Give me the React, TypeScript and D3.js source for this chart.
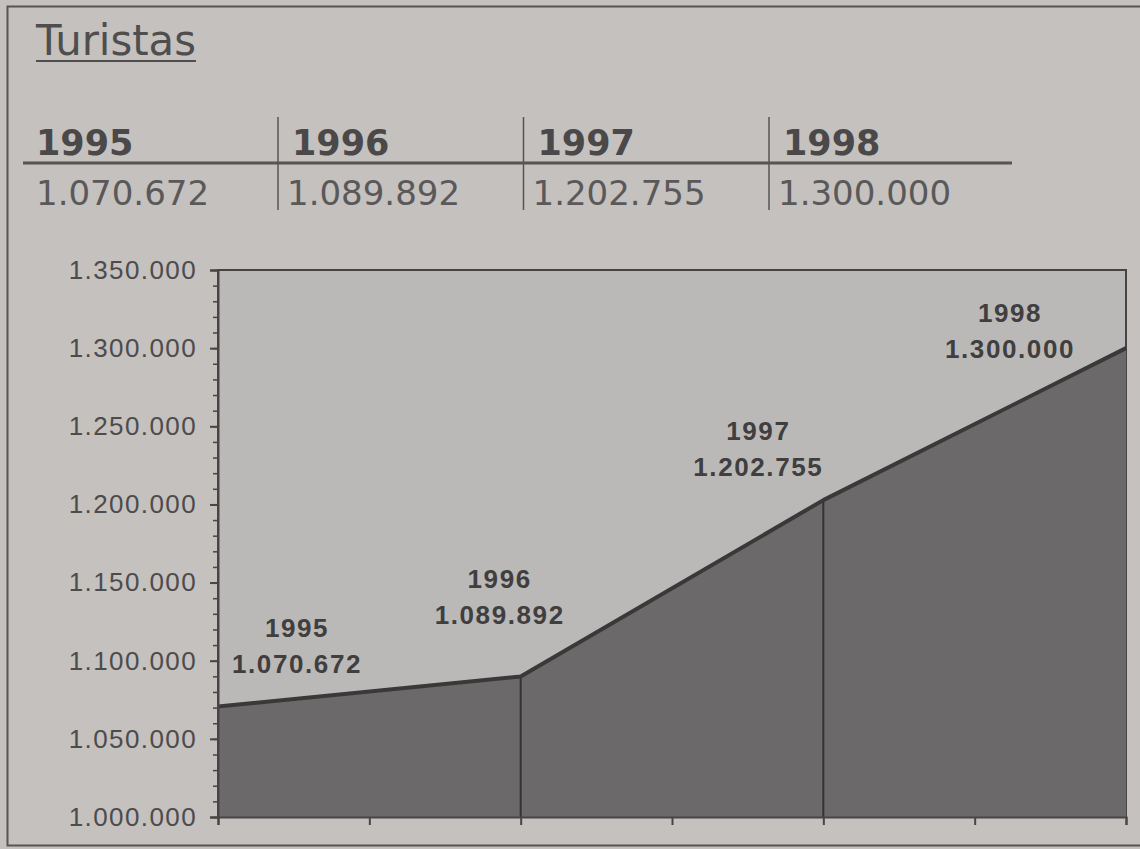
import React, { useEffect, useRef } from 'react';
import * as d3 from 'd3';

// data
const years = ['1995', '1996', '1997', '1998'];
const tourists = [1070672, 1089892, 1202755, 1300000];
const yMin = 1000000;
const yMax = 1350000;
const yMajor = d3.range(yMin, yMax + 1, 50000);
const yMinor = d3.range(yMin, yMax + 1, 10000);
const xTicks = d3.range(0, years.length - 1 + 0.01, 0.5);

const esLocale = d3.formatLocale({ decimal: ',', thousands: '.', grouping: [3], currency: ['', ''] });
const fmt = esLocale.format(',d');

const W = 1140;
const H = 849;

const App = () => {
  const ref = useRef<SVGSVGElement>(null);
  useEffect(() => {
    const svg = d3.select(ref.current);
    svg.selectAll('*').remove();
    draw(svg);
  }, []);
  return <svg ref={ref} width={W} height={H} style={{ position: 'absolute', left: 0, top: 0 }} />;
};

const draw = (svg: any) => {
  const ink = '#474545';
  const paper = '#c4c1bf';

  svg.append('rect').attr('width', W).attr('height', H).attr('fill', paper);
  svg.append('rect')
    .attr('x', 7.5).attr('y', 6.5).attr('width', W + 20).attr('height', 839)
    .attr('fill', 'none').attr('stroke', '#555').attr('stroke-width', 2);

  // title
  svg.append('text')
    .attr('x', 36).attr('y', 55)
    .attr('font-family', '"DejaVu Sans", Verdana, sans-serif')
    .attr('font-size', 43)
    .attr('textLength', 160).attr('lengthAdjust', 'spacingAndGlyphs')
    .attr('fill', '#4f4d4d')
    .text('Turistas');
  svg.append('line')
    .attr('x1', 36).attr('x2', 196).attr('y1', 61).attr('y2', 61)
    .attr('stroke', '#4f4d4d').attr('stroke-width', 2);

  // little table above the chart
  const colStart = (i: number) => 32.5 + i * 245.5;
  const table = svg.append('g');
  table.append('line')
    .attr('x1', 23).attr('x2', 1012).attr('y1', 163).attr('y2', 163)
    .attr('stroke', '#555').attr('stroke-width', 3);
  years.forEach((yr, i) => {
    const x0 = colStart(i);
    if (i > 0) {
      table.append('line')
        .attr('x1', x0).attr('x2', x0).attr('y1', 117).attr('y2', 210)
        .attr('stroke', '#555').attr('stroke-width', 1.5);
    }
    table.append('text')
      .attr('x', i === 0 ? 36 : x0 + 14).attr('y', 155)
      .attr('font-family', '"DejaVu Sans", Verdana, sans-serif')
      .attr('font-weight', 'bold').attr('font-size', 35)
      .attr('fill', '#4a4848')
      .text(yr);
    table.append('text')
      .attr('x', i === 0 ? 36 : x0 + 9).attr('y', 205)
      .attr('font-family', '"DejaVu Sans", Verdana, sans-serif')
      .attr('font-size', 34)
      .attr('fill', '#5a5858')
      .text(fmt(tourists[i]));
  });

  // chart
  const x = d3.scaleLinear().domain([0, years.length - 1]).range([218, 1126]);
  const y = d3.scaleLinear().domain([yMin, yMax]).range([817, 270]);

  const plot = svg.append('g');
  plot.append('rect')
    .attr('x', x(0)).attr('y', y(yMax))
    .attr('width', x(years.length - 1) - x(0)).attr('height', y(yMin) - y(yMax))
    .attr('fill', '#bbb9b8').attr('stroke', '#444').attr('stroke-width', 2);

  const area = d3.area<number>()
    .x((d, i) => x(i))
    .y0(y(yMin))
    .y1(d => y(d));
  plot.append('path').datum(tourists).attr('d', area).attr('fill', '#6b6969');

  // drop lines at the inner categories
  tourists.slice(1, -1).forEach((v, j) => {
    const i = j + 1;
    plot.append('line')
      .attr('x1', x(i)).attr('x2', x(i)).attr('y1', y(v)).attr('y2', y(yMin))
      .attr('stroke', '#353333').attr('stroke-width', 2);
  });

  const line = d3.line<number>().x((d, i) => x(i)).y(d => y(d));
  plot.append('path').datum(tourists).attr('d', line)
    .attr('fill', 'none').attr('stroke', '#3a3838').attr('stroke-width', 4)
    .attr('stroke-linejoin', 'round');

  // axes
  const axisFont = '"Liberation Sans", Arial, sans-serif';
  const minorG = svg.append('g').attr('transform', `translate(${x(0)},0)`);
  minorG.call(d3.axisLeft(y).tickValues(yMinor).tickSize(5).tickFormat(() => ''));
  minorG.select('.domain').remove();
  minorG.selectAll('line').attr('stroke', ink).attr('stroke-width', 1.5);

  const yG = svg.append('g').attr('transform', `translate(${x(0)},0)`);
  yG.call(d3.axisLeft(y).tickValues(yMajor).tickSize(8).tickPadding(13).tickFormat((d: any) => fmt(d)));
  yG.select('.domain').attr('stroke', ink).attr('stroke-width', 2);
  yG.selectAll('line').attr('stroke', ink).attr('stroke-width', 2);
  yG.selectAll('text')
    .attr('font-family', axisFont).attr('font-size', 26)
    .attr('letter-spacing', 1.4).attr('fill', '#4d4b4b');

  const xG = svg.append('g').attr('transform', `translate(0,${y(yMin)})`);
  xG.call(d3.axisBottom(x).tickValues(xTicks).tickSize(8).tickFormat(() => ''));
  xG.select('.domain').attr('stroke', ink).attr('stroke-width', 2);
  xG.selectAll('line').attr('stroke', ink).attr('stroke-width', 2);

  // data labels, nudged by hand like the original
  const labelDx = [79, -21, -65, -116];
  const labelDy = [-34, -53, -24, 10];
  tourists.forEach((v, i) => {
    const cx = x(i) + labelDx[i];
    const by = y(v) + labelDy[i];
    const g = svg.append('g')
      .attr('font-family', axisFont).attr('font-weight', 'bold')
      .attr('font-size', 26).attr('letter-spacing', 1.6)
      .attr('fill', '#403e3e').attr('text-anchor', 'middle');
    g.append('text').attr('x', cx).attr('y', by - 36).text(years[i]);
    g.append('text').attr('x', cx).attr('y', by).text(fmt(v));
  });
};

export default App;
